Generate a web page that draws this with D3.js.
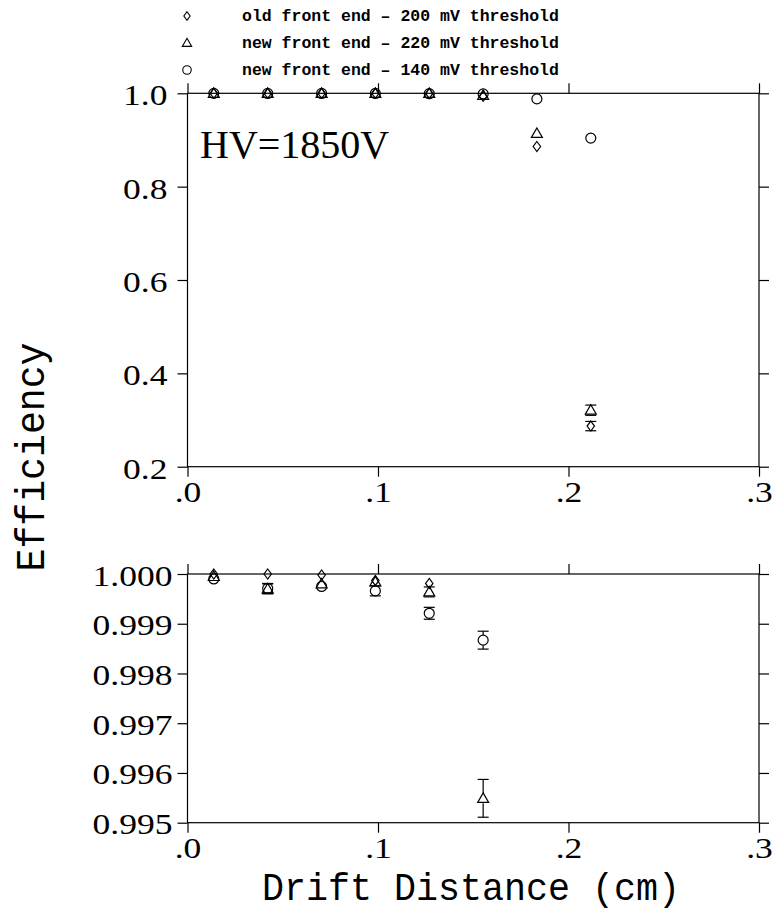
<!DOCTYPE html>
<html><head><meta charset="utf-8">
<script src="https://cdn.jsdelivr.net/npm/d3@7"></script>
<style>html,body{margin:0;padding:0;background:#fff;} svg{display:block}</style>
</head><body>
<svg id="chart" width="773" height="913"></svg>
<script>
// Drift distance bin centres (cm)
const drift = [0.0138, 0.0421, 0.0704, 0.0986, 0.1269, 0.1552, 0.1834, 0.2117];

// Hit efficiency per bin, with its statistical uncertainty
const oldFE200    = [1.00000, 1.00000, 0.99998, 0.99987, 0.99981, 0.99350, 0.886, 0.287];
const oldFE200Err = [0.00000, 0.00000, 0.00002, 0.00003, 0.00004, 0.00080, 0.004, 0.010];
const newFE220    = [0.99995, 0.99970, 0.99980, 0.99984, 0.99964, 0.99549, 0.914, 0.321];
const newFE220Err = [0.00003, 0.00010, 0.00006, 0.00006, 0.00010, 0.00038, 0.004, 0.011];
const newFE140    = [0.99990, 0.99971, 0.99975, 0.99966, 0.99921, 0.99867, 0.988, 0.904];
const newFE140Err = [0.00003, 0.00010, 0.00006, 0.00010, 0.00012, 0.00018, 0.002, 0.004];

const legendLabels = [
  "old front end \u2013 200 mV threshold",
  "new front end \u2013 220 mV threshold",
  "new front end \u2013 140 mV threshold"
];
const xTicks = [0, 0.1, 0.2, 0.3];
const yTicksTop = [0.2, 0.4, 0.6, 0.8, 1.0];
const yTicksBottom = [0.995, 0.996, 0.997, 0.998, 0.999, 1.000];

const series = [
  {vals: oldFE200, errs: oldFE200Err, shape: "diamond"},
  {vals: newFE220, errs: newFE220Err, shape: "triangle"},
  {vals: newFE140, errs: newFE140Err, shape: "circle"}
];

const svg = d3.select("#chart");
const INK = "#000";
const LW = 1.2;
const tickFont = "'Liberation Serif', 'Times New Roman', serif";
const SX = 1.2; // wide numerals

const X0 = 187.5, X1 = 759;
const x = d3.scaleLinear().domain([0, 0.3]).range([X0, X1]);

const panels = [
  {domain: [0.2, 1.0], range: [466.7, 93.3], ticks: yTicksTop, fmt: d3.format(".1f"), gap: 20, base: 11.5},
  {domain: [0.995, 1.0], range: [822.7, 574], ticks: yTicksBottom, fmt: d3.format(".3f"), gap: 15, base: 11}
];

// marker half-extent in px, used to keep error bars outside the symbol
const half = {diamond: 5, triangle: 5, circle: 5};

function markerPath(shape) {
  if (shape === "diamond") return "M0,-5L3.7,0L0,5L-3.7,0Z";
  if (shape === "triangle") return "M0,-5.5L5.5,4L-5.5,4Z";
  const p = d3.path(); p.arc(0, 0, 5, 0, 2 * Math.PI); p.closePath(); return p.toString();
}

function styleTicks(g) {
  g.select(".domain").remove();
  g.selectAll(".tick line").attr("stroke", INK).attr("stroke-width", LW);
}

const xFmt = d => d3.format(".1f")(d).replace(/^0/, "");

panels.forEach((p) => {
  const y = d3.scaleLinear().domain(p.domain).range(p.range);
  const yTop = p.range[1], yBot = p.range[0];
  const g = svg.append("g");

  // frame
  g.append("rect").attr("x", X0).attr("y", yTop).attr("width", X1 - X0).attr("height", yBot - yTop)
    .attr("fill", "none").attr("stroke", INK).attr("stroke-width", LW);

  // bottom axis with labels
  const gb = g.append("g").attr("transform", `translate(0,${yBot})`)
    .call(d3.axisBottom(x).tickValues(xTicks).tickSize(10).tickFormat(xFmt));
  styleTicks(gb);
  gb.selectAll(".tick text").attr("y", 35.3).attr("dy", null).attr("x", 0)
    .attr("transform", `scale(${SX},1)`)
    .attr("font-family", tickFont).attr("font-size", 29.6).attr("fill", INK);

  // top axis, ticks only
  const gt = g.append("g").attr("transform", `translate(0,${yTop})`)
    .call(d3.axisTop(x).tickValues(xTicks).tickSize(10).tickFormat(""));
  styleTicks(gt);

  // left axis with labels
  const gl = g.append("g").attr("transform", `translate(${X0},0)`)
    .call(d3.axisLeft(y).tickValues(p.ticks).tickSize(10).tickFormat(p.fmt));
  styleTicks(gl);
  gl.selectAll(".tick text").attr("x", -p.gap / SX).attr("dy", null).attr("y", p.base)
    .attr("transform", `scale(${SX},1)`)
    .attr("font-family", tickFont).attr("font-size", 29.6).attr("fill", INK);

  // right axis, ticks only
  const gr = g.append("g").attr("transform", `translate(${X1},0)`)
    .call(d3.axisRight(y).tickValues(p.ticks).tickSize(10).tickFormat(""));
  styleTicks(gr);

  // data
  const lo = Math.min(...p.domain), hi = Math.max(...p.domain);
  series.forEach(s => {
    const pts = drift.map((d, i) => ({d, v: s.vals[i], e: s.errs[i]}))
      .filter(q => q.v >= lo - 1e-9 && q.v <= hi + 1e-9);
    const sg = g.append("g");
    pts.forEach(q => {
      const cx = x(q.d), cy = y(q.v);
      const eh = Math.abs(y(q.v + q.e) - cy);
      const h = half[s.shape];
      if (eh > h - 0.5) {
        const up = Math.max(cy - eh, yTop), dn = Math.min(cy + eh, yBot);
        [[cy - h, up], [cy + h, dn]].forEach(([a, b]) => {
          sg.append("line").attr("x1", cx).attr("x2", cx).attr("y1", a).attr("y2", b)
            .attr("stroke", INK).attr("stroke-width", LW);
        });
        [cy - eh, cy + eh].forEach(yc => {
          if (yc >= yTop - 0.5 && yc <= yBot + 0.5)
            sg.append("line").attr("x1", cx - 5.5).attr("x2", cx + 5.5).attr("y1", yc).attr("y2", yc)
              .attr("stroke", INK).attr("stroke-width", LW);
        });
      }
      sg.append("path").attr("d", markerPath(s.shape)).attr("transform", `translate(${cx},${cy})`)
        .attr("fill", "none").attr("stroke", INK).attr("stroke-width", LW);
    });
  });
});

// legend
const legendRows = [16, 43, 70];
series.forEach((s, i) => {
  svg.append("path").attr("d", markerPath(s.shape))
    .attr("transform", `translate(187,${legendRows[i]}) scale(0.85)`)
    .attr("fill", "none").attr("stroke", INK).attr("stroke-width", 1.3);
  svg.append("text").attr("x", 242).attr("y", legendRows[i] + 5)
    .attr("font-family", "'Liberation Mono', monospace").attr("font-weight", "bold")
    .attr("font-size", 16.5).attr("fill", INK).text(legendLabels[i]);
});

// annotation
svg.append("text").attr("x", 200).attr("y", 158)
  .attr("font-family", tickFont).attr("font-size", 40).attr("fill", INK).text("HV=1850V");

// axis titles
svg.append("text").attr("x", 471).attr("y", 900).attr("text-anchor", "middle")
  .attr("font-family", "'Liberation Mono', monospace").attr("font-size", 38)
  .attr("textLength", 418).attr("lengthAdjust", "spacingAndGlyphs")
  .attr("fill", INK).text("Drift Distance (cm)");

svg.append("text").attr("transform", "translate(44,457) rotate(-90)").attr("text-anchor", "middle")
  .attr("font-family", "'Liberation Mono', monospace").attr("font-size", 40)
  .attr("textLength", 229).attr("lengthAdjust", "spacingAndGlyphs")
  .attr("fill", INK).text("Efficiency");
</script>
</body></html>
